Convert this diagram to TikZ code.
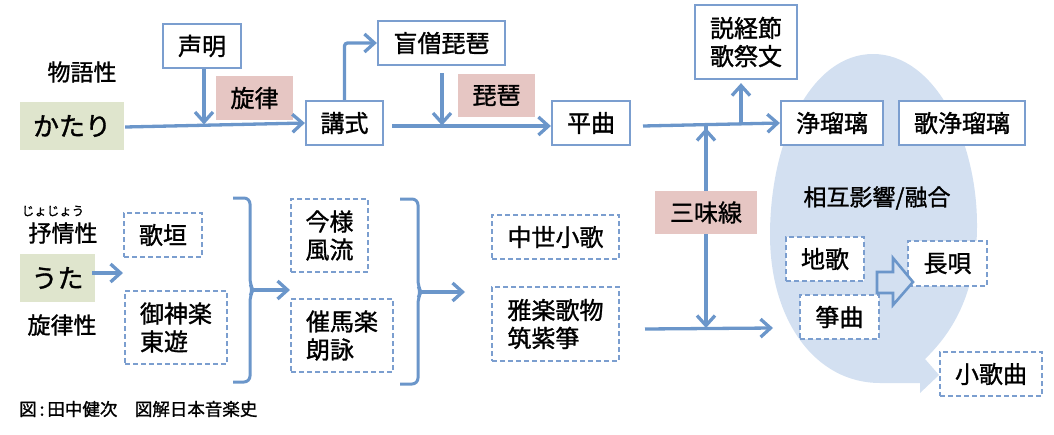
\documentclass[tikz,border=0pt]{standalone}
\usepackage{fontspec}
\setmainfont{Noto Sans CJK JP}[FakeBold=1.2]
\usetikzlibrary{arrows.meta}
\definecolor{lineblue}{HTML}{6B96CA}
\definecolor{boxblue}{HTML}{7B9ECF}
\definecolor{pinkfill}{HTML}{E6C6C3}
\definecolor{greenfill}{HTML}{DFE5CD}
\definecolor{blobfill}{HTML}{D3E0F1}
\tikzset{
  base/.style={inner sep=0pt, font=\fontsize{24}{28}\selectfont, align=left},
  box/.style={base, draw=boxblue, line width=2.2pt, fill=white},
  dbox/.style={base, draw=boxblue, line width=2pt, dash pattern=on 5pt off 3pt, fill=white},
  pinkbox/.style={base, fill=pinkfill},
  greenbox/.style={base, fill=greenfill, font=\fontsize{26}{30}\selectfont},
  lbl/.style={inner sep=0pt, font=\fontsize{23}{26}\selectfont},
  conn/.style={draw=lineblue, line width=3.3pt, -{Straight Barb[length=10pt,width=18pt]}},
  plain/.style={draw=lineblue, line width=3.2pt},
}
\begin{document}
\begin{tikzpicture}[x=1pt,y=-1pt]
\useasboundingbox (0,0) rectangle (1054,434);
% blob
\fill[blobfill] (925,359) .. controls (955,330) and (977,290) .. (977,225)
  .. controls (977,140) and (935,54) .. (873,54)
  .. controls (811,54) and (770,140) .. (770,235)
  .. controls (770,320) and (815,383) .. (880,383)
  -- (920,383) -- (920,393) -- (939,375) -- cycle;

% labels
\node[lbl] (monogatari) at (82,72) {物語性};
\node[inner sep=0pt, font=\fontsize{12.5}{14}\selectfont] (ruby) at (53,211) {じょじょう};
\node[lbl] (jojo) at (63,233) {抒情性};
\node[lbl] (senritsusei) at (62,325) {旋律性};
\node[inner sep=0pt, font=\fontsize{17.5}{20}\selectfont, anchor=west] (cap) at (19,409) {図\,:\,田中健次　図解日本音楽史};
\node[lbl] (sogo) at (877,198) {相互影響/融合};

% top row nodes
\node[greenbox, minimum width=104pt, minimum height=48pt] (katari) at (72,126) {かたり};
\node[box, minimum width=78pt, minimum height=44pt] (shomyo) at (202,46) {声明};
\node[pinkbox, minimum width=77pt, minimum height=44pt] (senritsu) at (254.5,98) {旋律};
\node[box, minimum width=77pt, minimum height=44pt] (koshiki) at (344.5,123) {講式};
\node[box, minimum width=127pt, minimum height=44pt] (moso) at (441.5,43) {盲僧琵琶};
\node[pinkbox, minimum width=77pt, minimum height=43pt] (biwa) at (496.5,95.5) {琵琶};
\node[box, minimum width=78pt, minimum height=44pt] (heikyoku) at (591,123) {平曲};
\node[box, minimum width=102pt, minimum height=74pt] (sekkyo) at (746,42) {説経節\\歌祭文};
\node[box, minimum width=102pt, minimum height=44pt] (joruri) at (832,123) {浄瑠璃};
\node[box, minimum width=126pt, minimum height=44pt] (utajoruri) at (962,123) {歌浄瑠璃};
\node[pinkbox, minimum width=102pt, minimum height=43pt] (shamisen) at (706,212.5) {三味線};

% lower nodes
\node[greenbox, minimum width=75pt, minimum height=48pt] (uta) at (57.5,278) {うた};
\node[dbox, minimum width=78pt, minimum height=44pt] (utagaki) at (163,235) {歌垣};
\node[dbox, minimum width=102pt, minimum height=73pt] (mikagura) at (176,327.5) {御神楽\\東遊};
\node[dbox, minimum width=77pt, minimum height=73pt] (imayo) at (329.5,235.5) {今様\\風流};
\node[dbox, minimum width=102pt, minimum height=73pt] (saibara) at (342,335.5) {催馬楽\\朗詠};
\node[dbox, minimum width=127pt, minimum height=44pt] (chusei) at (555.5,237) {中世小歌};
\node[dbox, minimum width=127pt, minimum height=74pt] (gagaku) at (555.5,324) {雅楽歌物\\筑紫箏};
\node[dbox, minimum width=78pt, minimum height=44pt] (jiuta) at (825,259) {地歌};
\node[dbox, minimum width=79pt, minimum height=45pt] (nagauta) at (947.5,263.5) {長唄};
\node[dbox, minimum width=79pt, minimum height=44pt] (sokyoku) at (839.5,317) {箏曲};
\node[dbox, minimum width=102pt, minimum height=44pt] (kokyoku) at (991,374) {小歌曲};

% junction coordinates
\coordinate (j1) at (204,124.5);
\coordinate (j2) at (442,125.5);
\coordinate (k1) at (392,126);
\coordinate (h1) at (643,126);
\coordinate (s1) at (741,125);
\coordinate (low1) at (645,329);
\coordinate (low2) at (773,328);
\coordinate (b1) at (252,290);
\coordinate (b1t) at (290,290);
\coordinate (b2) at (420,292);
\coordinate (b2t) at (465,292);

% top connectors
\draw[conn] (katari.east) ++(1,1) -- (koshiki.west);
\draw[conn] (shomyo.south -| j1) -- (j1);
\draw[conn, rounded corners=3pt] (koshiki.north) |- (moso.west);
\draw[conn] ([yshift=-7pt]moso.south -| j2) -- (j2);
\draw[conn] (k1) -- (k1 -| heikyoku.west);
\draw[conn] (h1) -- (joruri.west);
\draw[conn] (s1) -- ([yshift=-3pt]sekkyo.south -| s1);
\draw[conn] (shamisen.north) -- (shamisen.north |- s1) ++(0,3);
\draw[conn] (shamisen.south) -- (shamisen.south |- low2);
\draw[conn] (low1) -- (low2);

% lower connectors
\draw[conn] ([xshift=-3pt,yshift=5pt]uta.east) -- ([yshift=5pt]uta.east -| utagaki.west);
\draw[plain, line width=3pt, rounded corners=6pt] (233,198) -- (250,198) -- (250,284) -- (253,290) -- (250,296) -- (250,382) -- (233,382);
\draw[plain, line width=3pt, rounded corners=6pt] (400,199) -- (418,199) -- (418,286) -- (421,292) -- (418,298) -- (418,384) -- (400,384);
\draw[conn] (b1) -- (b1t);
\draw[conn] (b2) -- (b2t);

% block arrow
\draw[draw=lineblue, fill=blobfill, line width=2.6pt, line join=miter]
  (877,272) -- (893,272) -- (893,258) -- (913,282) -- (893,305) -- (893,293) -- (877,293) -- cycle;
\end{tikzpicture}
\end{document}
